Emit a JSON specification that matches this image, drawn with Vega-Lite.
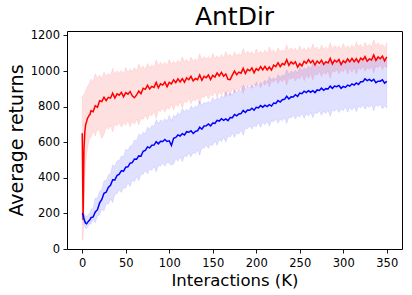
{
"$schema":"https://vega.github.io/schema/vega-lite/v6.json",
"width":335,"height":218,
"autosize":"none",
"padding":{"left":67,"top":31,"right":10,"bottom":46},
"background":"white",
"config":{"font":"DejaVu Sans","view":{"stroke":"black","strokeWidth":1},
"axis":{"domain":false,"grid":false,"tickColor":"black","tickWidth":0.9,"tickSize":4,"labelColor":"black","labelFontSize":11.5,"labelFont":"DejaVu Sans","titleFont":"DejaVu Sans","titleColor":"black","titleFontWeight":"normal","labelOverlap":false,"labelFlush":false,"format":"d"}},
"title":{"text":"AntDir","fontSize":25,"fontWeight":"normal","font":"DejaVu Sans","color":"black","offset":-0.5},
"data":{"values":[
{"x":0,"r":650,"rl":50,"rh":860,"b":200,"bl":165,"bh":212},
{"x":1,"r":165,"rl":55,"rh":860,"b":192,"bl":160,"bh":208},
{"x":2,"r":560,"rl":200,"rh":870,"b":172,"bl":140,"bh":200},
{"x":3,"r":660,"rl":400,"rh":880,"b":155,"bl":125,"bh":192},
{"x":4,"r":700,"rl":480,"rh":892,"b":145,"bl":118,"bh":185},
{"x":5,"r":715,"rl":530,"rh":900,"b":142,"bl":115,"bh":182},
{"x":6,"r":735,"rl":565,"rh":912,"b":148,"bl":122,"bh":188},
{"x":7,"r":742,"rl":590,"rh":920,"b":155,"bl":130,"bh":192},
{"x":8,"r":752,"rl":612,"rh":930,"b":160,"bl":138,"bh":198},
{"x":9,"r":756,"rl":628,"rh":938,"b":165,"bl":145,"bh":205},
{"x":10,"r":777,"rl":625,"rh":955,"b":176,"bl":138,"bh":223},
{"x":12.5,"r":771,"rl":665,"rh":940,"b":180,"bl":168,"bh":230},
{"x":15,"r":805,"rl":635,"rh":985,"b":208,"bl":147,"bh":285},
{"x":17.5,"r":796,"rl":675,"rh":960,"b":221,"bl":186,"bh":286},
{"x":20,"r":833,"rl":662,"rh":978,"b":259,"bl":192,"bh":324},
{"x":22.5,"r":829,"rl":620,"rh":958,"b":278,"bl":225,"bh":333},
{"x":25,"r":853,"rl":645,"rh":994,"b":313,"bl":214,"bh":383},
{"x":27.5,"r":834,"rl":681,"rh":971,"b":319,"bl":253,"bh":385},
{"x":30,"r":852,"rl":673,"rh":987,"b":346,"bl":252,"bh":416},
{"x":32.5,"r":848,"rl":696,"rh":974,"b":358,"bl":282,"bh":422},
{"x":35,"r":876,"rl":657,"rh":1016,"b":389,"bl":260,"bh":475},
{"x":37.5,"r":848,"rl":701,"rh":982,"b":388,"bl":308,"bh":463},
{"x":40,"r":872,"rl":693,"rh":1002,"b":413,"bl":311,"bh":495},
{"x":42.5,"r":864,"rl":710,"rh":988,"b":420,"bl":332,"bh":497},
{"x":45,"r":880,"rl":684,"rh":1003,"b":440,"bl":317,"bh":522},
{"x":47.5,"r":855,"rl":707,"rh":984,"b":438,"bl":344,"bh":518},
{"x":50,"r":879,"rl":695,"rh":1020,"b":460,"bl":342,"bh":561},
{"x":52.5,"r":870,"rl":722,"rh":993,"b":462,"bl":372,"bh":553},
{"x":55,"r":885,"rl":685,"rh":1011,"b":482,"bl":350,"bh":580},
{"x":57.5,"r":861,"rl":719,"rh":997,"b":485,"bl":386,"bh":581},
{"x":60,"r":850,"rl":700,"rh":1020,"b":506,"bl":378,"bh":613},
{"x":62.5,"r":866,"rl":730,"rh":1000,"b":505,"bl":407,"bh":607},
{"x":65,"r":887,"rl":695,"rh":1040,"b":523,"bl":383,"bh":648},
{"x":67.5,"r":872,"rl":735,"rh":1013,"b":521,"bl":421,"bh":635},
{"x":70,"r":903,"rl":727,"rh":1028,"b":549,"bl":419,"bh":656},
{"x":72.5,"r":897,"rl":753,"rh":1007,"b":554,"bl":443,"bh":648},
{"x":75,"r":920,"rl":727,"rh":1043,"b":574,"bl":422,"bh":685},
{"x":77.5,"r":899,"rl":757,"rh":1020,"b":568,"bl":449,"bh":673},
{"x":80,"r":914,"rl":748,"rh":1035,"b":583,"bl":442,"bh":694},
{"x":82.5,"r":908,"rl":773,"rh":1022,"b":584,"bl":464,"bh":689},
{"x":85,"r":936,"rl":734,"rh":1064,"b":603,"bl":432,"bh":728},
{"x":87.5,"r":906,"rl":780,"rh":1030,"b":591,"bl":471,"bh":704},
{"x":90,"r":928,"rl":773,"rh":1050,"b":605,"bl":466,"bh":725},
{"x":92.5,"r":921,"rl":792,"rh":1036,"b":604,"bl":484,"bh":717},
{"x":95,"r":938,"rl":768,"rh":1050,"b":615,"bl":465,"bh":732},
{"x":97.5,"r":912,"rl":795,"rh":1030,"b":604,"bl":488,"bh":718},
{"x":100,"r":936,"rl":785,"rh":1065,"b":608,"bl":482,"bh":751},
{"x":102.5,"r":928,"rl":815,"rh":1038,"b":582,"bl":470,"bh":720},
{"x":105,"r":951,"rl":780,"rh":1055,"b":622,"bl":478,"bh":752},
{"x":107.5,"r":935,"rl":817,"rh":1039,"b":627,"bl":507,"bh":743},
{"x":110,"r":956,"rl":800,"rh":1062,"b":641,"bl":493,"bh":766},
{"x":112.5,"r":939,"rl":829,"rh":1042,"b":635,"bl":518,"bh":753},
{"x":115,"r":957,"rl":792,"rh":1080,"b":648,"bl":490,"bh":789},
{"x":117.5,"r":937,"rl":831,"rh":1052,"b":641,"bl":524,"bh":770},
{"x":120,"r":961,"rl":822,"rh":1066,"b":659,"bl":519,"bh":786},
{"x":122.5,"r":951,"rl":845,"rh":1045,"b":656,"bl":540,"bh":773},
{"x":125,"r":970,"rl":816,"rh":1079,"b":664,"bl":517,"bh":805},
{"x":127.5,"r":944,"rl":842,"rh":1055,"b":649,"bl":543,"bh":788},
{"x":130,"r":958,"rl":830,"rh":1069,"b":661,"bl":535,"bh":804},
{"x":132.5,"r":951,"rl":853,"rh":1056,"b":664,"bl":558,"bh":796},
{"x":135,"r":978,"rl":813,"rh":1097,"b":684,"bl":527,"bh":833},
{"x":137.5,"r":948,"rl":858,"rh":1063,"b":673,"bl":569,"bh":806},
{"x":140,"r":970,"rl":850,"rh":1082,"b":691,"bl":566,"bh":825},
{"x":142.5,"r":962,"rl":868,"rh":1068,"b":692,"bl":584,"bh":817},
{"x":145,"r":978,"rl":844,"rh":1082,"b":703,"bl":565,"bh":832},
{"x":147.5,"r":952,"rl":869,"rh":1062,"b":692,"bl":588,"bh":818},
{"x":150,"r":975,"rl":858,"rh":1098,"b":708,"bl":582,"bh":851},
{"x":152.5,"r":966,"rl":886,"rh":1070,"b":706,"bl":608,"bh":833},
{"x":155,"r":989,"rl":849,"rh":1086,"b":723,"bl":582,"bh":850},
{"x":157.5,"r":973,"rl":884,"rh":1071,"b":719,"bl":615,"bh":841},
{"x":160,"r":992,"rl":865,"rh":1093,"b":732,"bl":603,"bh":863},
{"x":162.5,"r":971,"rl":892,"rh":1072,"b":723,"bl":628,"bh":849},
{"x":165,"r":983,"rl":855,"rh":1110,"b":731,"bl":600,"bh":884},
{"x":167.5,"r":954,"rl":892,"rh":1082,"b":721,"bl":634,"bh":864},
{"x":170,"r":952,"rl":860,"rh":1096,"b":739,"bl":629,"bh":878},
{"x":172.5,"r":977,"rl":905,"rh":1075,"b":738,"bl":650,"bh":864},
{"x":175,"r":1000,"rl":876,"rh":1109,"b":756,"bl":627,"bh":896},
{"x":177.5,"r":979,"rl":902,"rh":1085,"b":748,"bl":653,"bh":878},
{"x":180,"r":994,"rl":890,"rh":1099,"b":759,"bl":645,"bh":894},
{"x":182.5,"r":988,"rl":913,"rh":1086,"b":761,"bl":668,"bh":886},
{"x":185,"r":1015,"rl":873,"rh":1127,"b":779,"bl":638,"bh":923},
{"x":187.5,"r":986,"rl":918,"rh":1093,"b":767,"bl":679,"bh":896},
{"x":190,"r":1009,"rl":910,"rh":1112,"b":781,"bl":676,"bh":915},
{"x":192.5,"r":1001,"rl":927,"rh":1097,"b":780,"bl":693,"bh":906},
{"x":195,"r":1017,"rl":902,"rh":1110,"b":791,"bl":673,"bh":921},
{"x":197.5,"r":990,"rl":926,"rh":1089,"b":780,"bl":694,"bh":906},
{"x":200,"r":1013,"rl":915,"rh":1124,"b":796,"bl":687,"bh":938},
{"x":202.5,"r":1004,"rl":942,"rh":1096,"b":793,"bl":711,"bh":919},
{"x":205,"r":1025,"rl":905,"rh":1112,"b":806,"bl":683,"bh":936},
{"x":207.5,"r":1007,"rl":939,"rh":1096,"b":797,"bl":712,"bh":926},
{"x":210,"r":1026,"rl":920,"rh":1118,"b":808,"bl":698,"bh":948},
{"x":212.5,"r":1006,"rl":947,"rh":1097,"b":800,"bl":720,"bh":934},
{"x":215,"r":1023,"rl":910,"rh":1135,"b":811,"bl":690,"bh":969},
{"x":217.5,"r":1006,"rl":947,"rh":1106,"b":803,"bl":721,"bh":949},
{"x":220,"r":1033,"rl":937,"rh":1120,"b":820,"bl":714,"bh":964},
{"x":222.5,"r":1025,"rl":959,"rh":1098,"b":818,"bl":732,"bh":950},
{"x":225,"r":1047,"rl":929,"rh":1132,"b":834,"bl":707,"bh":981},
{"x":227.5,"r":1025,"rl":953,"rh":1107,"b":826,"bl":730,"bh":964},
{"x":230,"r":1042,"rl":940,"rh":1121,"b":839,"bl":720,"bh":979},
{"x":232.5,"r":1036,"rl":961,"rh":1107,"b":841,"bl":739,"bh":971},
{"x":235,"r":1064,"rl":920,"rh":1148,"b":858,"bl":705,"bh":1008},
{"x":237.5,"r":1032,"rl":962,"rh":1113,"b":843,"bl":742,"bh":981},
{"x":240,"r":1051,"rl":953,"rh":1132,"b":855,"bl":736,"bh":1000},
{"x":242.5,"r":1040,"rl":970,"rh":1116,"b":854,"bl":751,"bh":991},
{"x":245,"r":1052,"rl":944,"rh":1129,"b":867,"bl":730,"bh":1005},
{"x":247.5,"r":1022,"rl":967,"rh":1107,"b":858,"bl":751,"bh":989},
{"x":250,"r":1041,"rl":955,"rh":1142,"b":876,"bl":742,"bh":1021},
{"x":252.5,"r":1029,"rl":982,"rh":1114,"b":873,"bl":764,"bh":1002},
{"x":255,"r":1055,"rl":945,"rh":1130,"b":887,"bl":734,"bh":1018},
{"x":257.5,"r":1043,"rl":979,"rh":1113,"b":879,"bl":762,"bh":1007},
{"x":260,"r":1064,"rl":960,"rh":1135,"b":890,"bl":746,"bh":1028},
{"x":262.5,"r":1046,"rl":987,"rh":1114,"b":881,"bl":768,"bh":1012},
{"x":265,"r":1059,"rl":950,"rh":1152,"b":890,"bl":737,"bh":1045},
{"x":267.5,"r":1034,"rl":987,"rh":1122,"b":879,"bl":768,"bh":1023},
{"x":270,"r":1056,"rl":977,"rh":1136,"b":894,"bl":760,"bh":1036},
{"x":272.5,"r":1043,"rl":999,"rh":1113,"b":891,"bl":777,"bh":1020},
{"x":275,"r":1061,"rl":969,"rh":1147,"b":904,"bl":751,"bh":1050},
{"x":277.5,"r":1037,"rl":993,"rh":1121,"b":892,"bl":773,"bh":1030},
{"x":280,"r":1052,"rl":980,"rh":1135,"b":901,"bl":762,"bh":1044},
{"x":282.5,"r":1045,"rl":1002,"rh":1120,"b":899,"bl":781,"bh":1033},
{"x":285,"r":1071,"rl":960,"rh":1161,"b":915,"bl":745,"bh":1067},
{"x":287.5,"r":1040,"rl":1003,"rh":1125,"b":903,"bl":782,"bh":1039},
{"x":290,"r":1061,"rl":993,"rh":1144,"b":916,"bl":774,"bh":1055},
{"x":292.5,"r":1051,"rl":1010,"rh":1129,"b":912,"bl":789,"bh":1043},
{"x":295,"r":1065,"rl":984,"rh":1142,"b":919,"bl":767,"bh":1055},
{"x":297.5,"r":1036,"rl":1007,"rh":1120,"b":903,"bl":786,"bh":1037},
{"x":300,"r":1057,"rl":995,"rh":1155,"b":914,"bl":777,"bh":1066},
{"x":302.5,"r":1047,"rl":1021,"rh":1127,"b":908,"bl":799,"bh":1044},
{"x":305,"r":1068,"rl":983,"rh":1143,"b":921,"bl":769,"bh":1058},
{"x":307.5,"r":1052,"rl":1016,"rh":1126,"b":915,"bl":796,"bh":1045},
{"x":310,"r":1071,"rl":995,"rh":1148,"b":928,"bl":780,"bh":1063},
{"x":312.5,"r":1053,"rl":1021,"rh":1127,"b":921,"bl":802,"bh":1046},
{"x":315,"r":1069,"rl":982,"rh":1165,"b":933,"bl":771,"bh":1078},
{"x":317.5,"r":1049,"rl":1019,"rh":1136,"b":924,"bl":802,"bh":1055},
{"x":320,"r":1073,"rl":1007,"rh":1150,"b":940,"bl":794,"bh":1066},
{"x":322.5,"r":1063,"rl":1028,"rh":1128,"b":940,"bl":811,"bh":1049},
{"x":325,"r":1081,"rl":998,"rh":1162,"b":956,"bl":785,"bh":1078},
{"x":327.5,"r":1055,"rl":1022,"rh":1137,"b":946,"bl":807,"bh":1057},
{"x":330,"r":1068,"rl":1008,"rh":1151,"b":953,"bl":795,"bh":1069},
{"x":332.5,"r":1062,"rl":1029,"rh":1137,"b":944,"bl":812,"bh":1058},
{"x":335,"r":1090,"rl":987,"rh":1177,"b":953,"bl":775,"bh":1091},
{"x":337.5,"r":1060,"rl":1029,"rh":1142,"b":935,"bl":810,"bh":1062},
{"x":340,"r":1079,"rl":1019,"rh":1160,"b":943,"bl":801,"bh":1078},
{"x":342.5,"r":1069,"rl":1035,"rh":1142,"b":943,"bl":813,"bh":1064},
{"x":345,"r":1084,"rl":1008,"rh":1152,"b":951,"bl":787,"bh":1072},
{"x":347.5,"r":1057,"rl":1030,"rh":1128,"b":932,"bl":804,"bh":1051},
{"x":350,"r":1079,"rl":1017,"rh":1160,"b":942,"bl":792,"bh":1078}
]},
"encoding":{
"x":{"field":"x","type":"quantitative","scale":{"domain":[-17.5,367.5],"nice":false,"zero":false},
"axis":{"values":[0,50,100,150,200,250,300,350],"labelPadding":4,"title":"Interactions (K)","titleFontSize":16.5,"titlePadding":4}},
"y":{"field":"rl","type":"quantitative","scale":{"domain":[0,1225],"nice":false},
 "axis":{"values":[0,200,400,600,800,1000,1200],"labelOverlap":false,"labelPadding":3.5,"title":"Average returns","titleFontSize":19,"titlePadding":4}}
},
"layer":[
{"mark":{"type":"area","color":"#ff0000","fillOpacity":0.12,"stroke":"#ff0000","strokeOpacity":0.1,"strokeWidth":0.8},
 "encoding":{"y2":{"field":"rh"}}},
{"mark":{"type":"area","color":"#0000ff","fillOpacity":0.12,"stroke":"#0000ff","strokeOpacity":0.1,"strokeWidth":0.8},
 "encoding":{"y":{"field":"bl","type":"quantitative"},"y2":{"field":"bh"}}},
{"mark":{"type":"line","color":"#ff0000","strokeWidth":1.5},
 "encoding":{"y":{"field":"r","type":"quantitative"}}},
{"mark":{"type":"line","color":"#0000ff","strokeWidth":1.5},
 "encoding":{"y":{"field":"b","type":"quantitative"}}}
]
}
